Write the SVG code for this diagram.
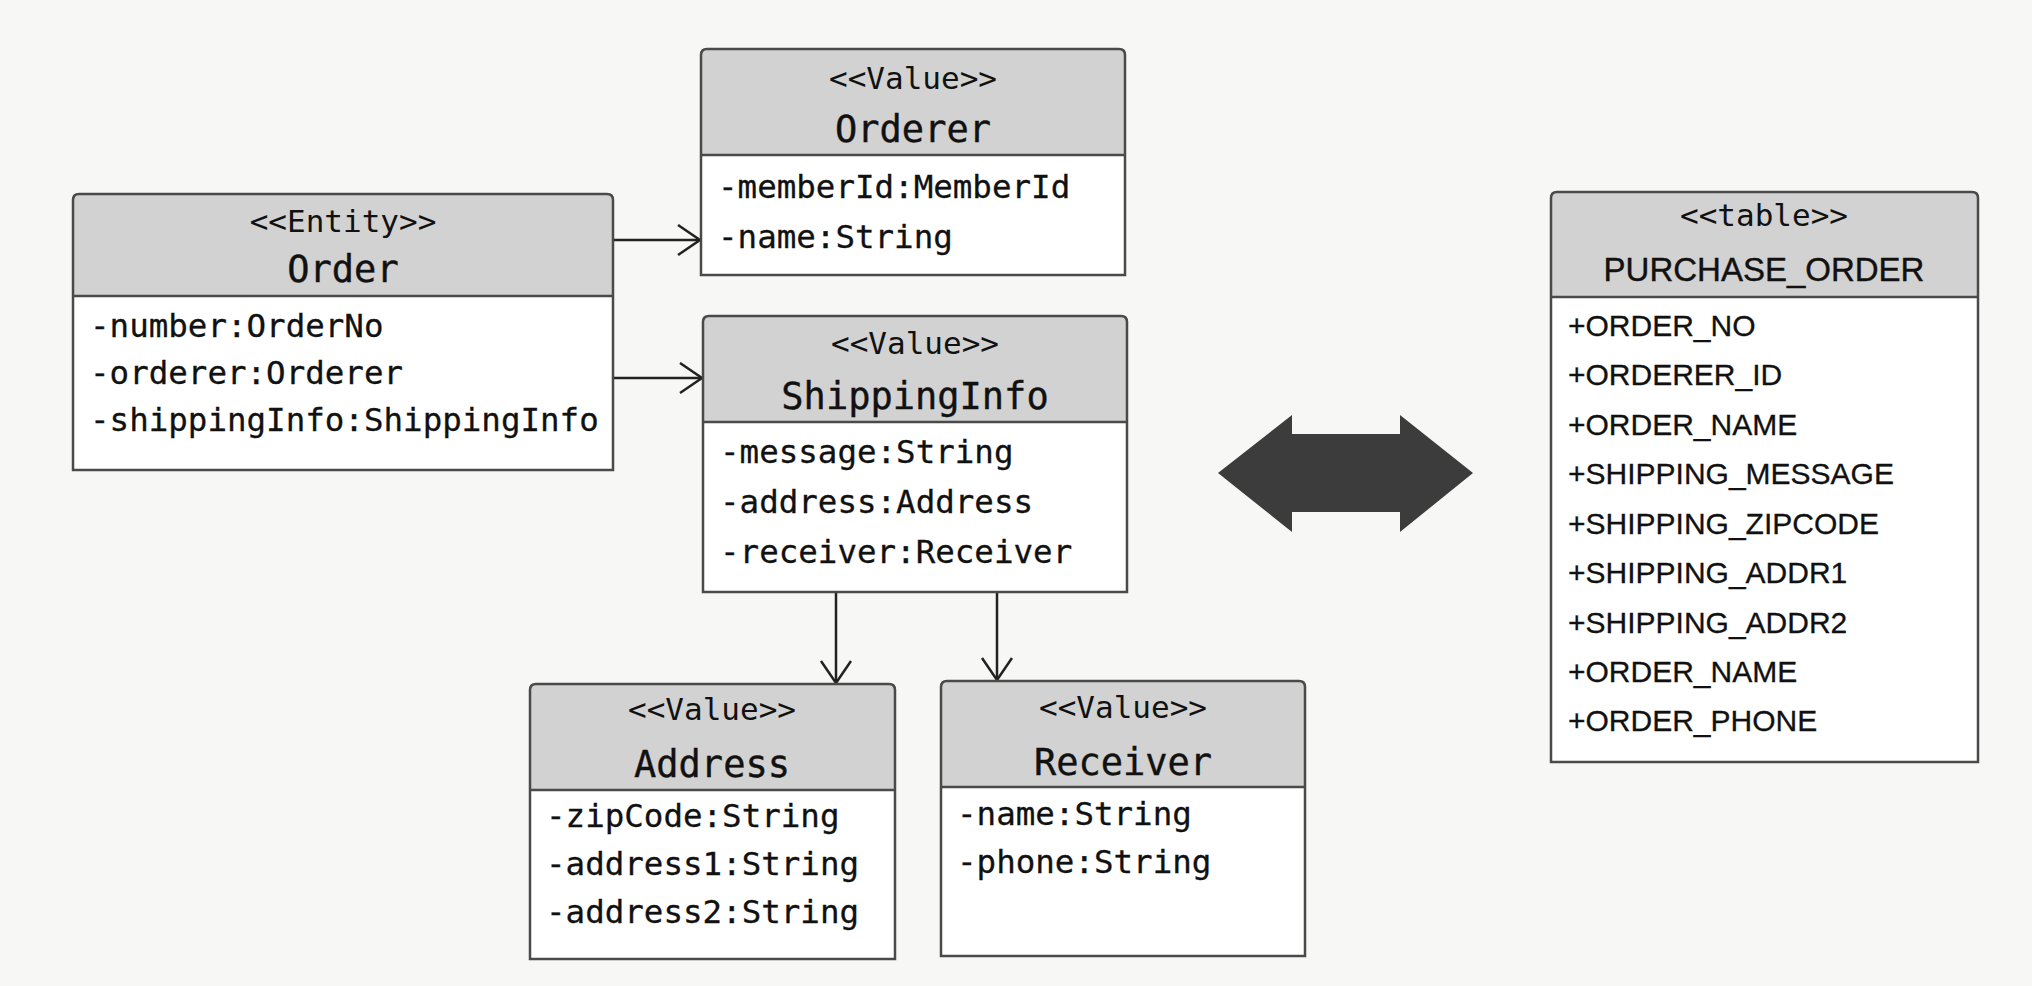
<svg xmlns="http://www.w3.org/2000/svg" width="2032" height="986" viewBox="0 0 2032 986">
<style>
.hdr{fill:#d2d2d2}
.body{fill:#ffffff}
.out{fill:none;stroke:#4a4a4a;stroke-width:2.5}
.st{font-family:"DejaVu Sans Mono","Liberation Mono",monospace;font-size:31px;fill:#111;text-anchor:middle}
.ti{font-family:"DejaVu Sans Mono","Liberation Mono",monospace;font-size:37px;fill:#111;text-anchor:middle;stroke:#111;stroke-width:0.4}
.at{font-family:"DejaVu Sans Mono","Liberation Mono",monospace;font-size:32.5px;fill:#111;stroke:#111;stroke-width:0.3}
.pt{font-family:"Liberation Sans",Arial,sans-serif;font-size:33px;fill:#111;text-anchor:middle;stroke:#111;stroke-width:0.4}
.pa{font-family:"Liberation Sans",Arial,sans-serif;font-size:30px;fill:#111;stroke:#111;stroke-width:0.3}
.con{stroke:#222;stroke-width:2.5;fill:none}
</style>
<defs>
<marker id="open" markerUnits="userSpaceOnUse" markerWidth="30" markerHeight="36" refX="24" refY="16" orient="auto">
<path d="M2,1 L24,16 L2,31" fill="none" stroke="#222" stroke-width="2.5"/>
</marker>
</defs>
<rect x="0" y="0" width="2032" height="986" fill="#f7f7f5"/>

<g id="connectors">
<line class="con" x1="613" y1="240" x2="700" y2="240" marker-end="url(#open)"/>
<line class="con" x1="613" y1="378" x2="702" y2="378" marker-end="url(#open)"/>
<line class="con" x1="836" y1="592" x2="836" y2="683" marker-end="url(#open)"/>
<line class="con" x1="997" y1="592" x2="997" y2="680" marker-end="url(#open)"/>
</g>

<g id="order">
<path class="hdr" d="M73,296 V200 Q73,194 79,194 H607 Q613,194 613,200 V296 Z"/>
<rect class="body" x="73" y="296" width="540" height="174"/>
<path class="out" d="M73,470 V200 Q73,194 79,194 H607 Q613,194 613,200 V470 Z M73,296 H613"/>
<text class="st" x="343" y="232">&lt;&lt;Entity&gt;&gt;</text>
<text class="ti" x="343" y="282">Order</text>
<text class="at" x="90" y="337">-number:OrderNo</text>
<text class="at" x="90" y="384">-orderer:Orderer</text>
<text class="at" x="90" y="431">-shippingInfo:ShippingInfo</text>
</g>

<g id="orderer">
<path class="hdr" d="M701,155 V55 Q701,49 707,49 H1119 Q1125,49 1125,55 V155 Z"/>
<rect class="body" x="701" y="155" width="424" height="120"/>
<path class="out" d="M701,275 V55 Q701,49 707,49 H1119 Q1125,49 1125,55 V275 Z M701,155 H1125"/>
<text class="st" x="913" y="89">&lt;&lt;Value&gt;&gt;</text>
<text class="ti" x="913" y="142">Orderer</text>
<text class="at" x="718" y="198">-memberId:MemberId</text>
<text class="at" x="718" y="248">-name:String</text>
</g>

<g id="shippinginfo">
<path class="hdr" d="M703,422 V322 Q703,316 709,316 H1121 Q1127,316 1127,322 V422 Z"/>
<rect class="body" x="703" y="422" width="424" height="170"/>
<path class="out" d="M703,592 V322 Q703,316 709,316 H1121 Q1127,316 1127,322 V592 Z M703,422 H1127"/>
<text class="st" x="915" y="354">&lt;&lt;Value&gt;&gt;</text>
<text class="ti" x="915" y="409">ShippingInfo</text>
<text class="at" x="720" y="463">-message:String</text>
<text class="at" x="720" y="513">-address:Address</text>
<text class="at" x="720" y="563">-receiver:Receiver</text>
</g>

<g id="address">
<path class="hdr" d="M530,790 V690 Q530,684 536,684 H889 Q895,684 895,690 V790 Z"/>
<rect class="body" x="530" y="790" width="365" height="169"/>
<path class="out" d="M530,959 V690 Q530,684 536,684 H889 Q895,684 895,690 V959 Z M530,790 H895"/>
<text class="st" x="712" y="720">&lt;&lt;Value&gt;&gt;</text>
<text class="ti" x="712" y="777">Address</text>
<text class="at" x="546" y="827">-zipCode:String</text>
<text class="at" x="546" y="875">-address1:String</text>
<text class="at" x="546" y="923">-address2:String</text>
</g>

<g id="receiver">
<path class="hdr" d="M941,787 V687 Q941,681 947,681 H1299 Q1305,681 1305,687 V787 Z"/>
<rect class="body" x="941" y="787" width="364" height="169"/>
<path class="out" d="M941,956 V687 Q941,681 947,681 H1299 Q1305,681 1305,687 V956 Z M941,787 H1305"/>
<text class="st" x="1123" y="718">&lt;&lt;Value&gt;&gt;</text>
<text class="ti" x="1123" y="775">Receiver</text>
<text class="at" x="957" y="825">-name:String</text>
<text class="at" x="957" y="873">-phone:String</text>
</g>

<g id="mapping-arrow">
<polygon points="1218,473 1292,415 1292,434 1400,434 1400,415 1473,473 1400,532 1400,512 1292,512 1292,532" fill="#3c3c3c"/>
</g>

<g id="purchase_order">
<path class="hdr" d="M1551,297 V198 Q1551,192 1557,192 H1972 Q1978,192 1978,198 V297 Z"/>
<rect class="body" x="1551" y="297" width="427" height="465"/>
<path class="out" d="M1551,762 V198 Q1551,192 1557,192 H1972 Q1978,192 1978,198 V762 Z M1551,297 H1978"/>
<text class="st" x="1764" y="226">&lt;&lt;table&gt;&gt;</text>
<text class="pt" x="1764" y="281">PURCHASE_ORDER</text>
<text class="pa" x="1568" y="336">+ORDER_NO</text>
<text class="pa" x="1568" y="385">+ORDERER_ID</text>
<text class="pa" x="1568" y="435">+ORDER_NAME</text>
<text class="pa" x="1568" y="484">+SHIPPING_MESSAGE</text>
<text class="pa" x="1568" y="534">+SHIPPING_ZIPCODE</text>
<text class="pa" x="1568" y="583">+SHIPPING_ADDR1</text>
<text class="pa" x="1568" y="633">+SHIPPING_ADDR2</text>
<text class="pa" x="1568" y="682">+ORDER_NAME</text>
<text class="pa" x="1568" y="731">+ORDER_PHONE</text>
</g>
</svg>
